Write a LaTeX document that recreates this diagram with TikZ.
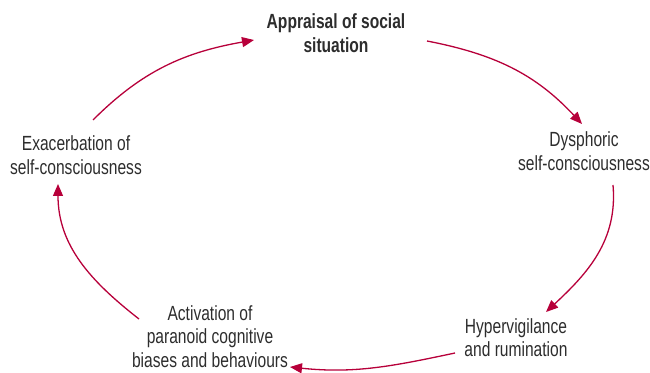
\documentclass[tikz,border=0pt]{standalone}
\usepackage{fontspec}
\setmainfont{Liberation Sans}[FakeStretch=0.76]
\usetikzlibrary{arrows.meta}
\definecolor{arrowred}{RGB}{183,0,58}
\definecolor{txtgray}{RGB}{45,45,45}
\tikzset{
  label text/.style={align=center, text=txtgray, inner sep=0pt,
    font=\fontsize{20.5}{23.5}\selectfont},
  cycle arrow/.style={draw=arrowred, line width=1.3pt,
    -{Triangle[length=12pt,width=10pt]}}
}
\begin{document}
\begin{tikzpicture}[x=1pt,y=1pt]
\useasboundingbox (0,0) rectangle (650,372);
\node[label text, font=\fontsize{20.5}{23.5}\selectfont\bfseries] (app) at (336,339) {Appraisal of social\\situation};
\node[label text] (dys) at (584,221) {Dysphoric\\self-consciousness};
\node[label text] (hyp) at (516,34.5) {Hypervigilance\\and rumination};
\node[label text] (act) at (210,35.5) {Activation of\\paranoid cognitive\\biases and behaviours};
\node[label text] (exa) at (76,217) {Exacerbation of\\self-consciousness};
\coordinate (a1s) at (93,252);  \coordinate (a1e) at (254,332);
\coordinate (a2s) at (427,331); \coordinate (a2e) at (582,248);
\coordinate (a3s) at (613,187); \coordinate (a3e) at (546,60);
\coordinate (a4s) at (455,19);  \coordinate (a4e) at (290,5);
\coordinate (a5s) at (139,53);  \coordinate (a5e) at (58,188);
\draw[cycle arrow] (a1s) to[out=45,in=190] (a1e);
\draw[cycle arrow] (a2s) to[out=-11,in=133] (a2e);
\draw[cycle arrow] (a3s) to[out=-85,in=43] (a3e);
\draw[cycle arrow] (a4s) to[out=192,in=-6] (a4e);
\draw[cycle arrow] (a5s) to[out=142,in=-90] (a5e);
\end{tikzpicture}
\end{document}
